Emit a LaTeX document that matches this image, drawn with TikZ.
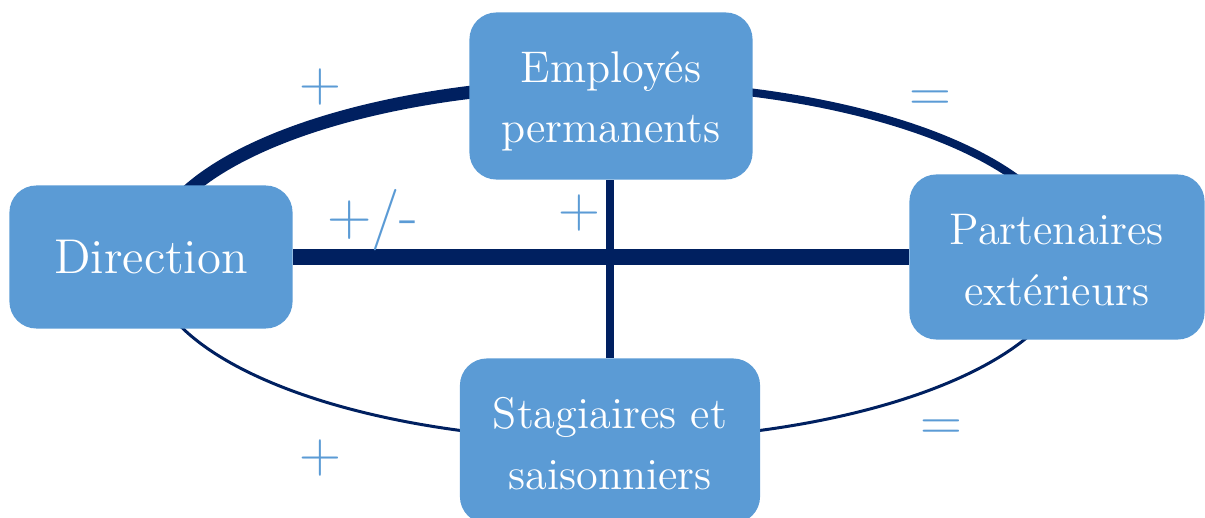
\documentclass[tikz,border=0pt]{standalone}
\usepackage{tikz}

\definecolor{bleu}{RGB}{91,155,213}
\definecolor{marine}{RGB}{0,32,96}

% cale verticale pour descendre un peu le texte dans les boites
\newcommand{\cale}{\rule[-0.06cm]{0pt}{0.48cm}}

\begin{document}
\begin{tikzpicture}[x=0.01cm,y=-0.01cm,
   boite/.style={rectangle,rounded corners=0.27cm,fill=bleu,text=white,align=center,
                 inner sep=0pt,font=\fontsize{12.6}{17.2}\selectfont},
   signe/.style={text=bleu,inner sep=0pt,font=\fontsize{16.5}{18}\selectfont}]

   \useasboundingbox (0,0) rectangle (1205,518);

   % l'ellipse en trois morceaux
   \coordinate (c) at (610,262);
   \draw[marine,line width=3.7pt] (c) ++(180:4.6cm and 1.78cm)
      arc[start angle=180,end angle=90,x radius=4.6cm,y radius=1.78cm];
   \draw[marine,line width=2.3pt] (c) ++(90:4.6cm and 1.78cm)
      arc[start angle=90,end angle=0,x radius=4.6cm,y radius=1.78cm];
   \draw[marine,line width=0.85pt] (c) ++(180:4.6cm and 1.78cm)
      arc[start angle=180,end angle=360,x radius=4.6cm,y radius=1.78cm];

   \node[boite,minimum width=2.83cm,minimum height=1.67cm] (emp) at (611,96) {\cale Employés\\\cale permanents};
   \node[boite,minimum width=2.83cm,minimum height=1.43cm,font=\fontsize{13.9}{16}\selectfont] (dir) at (151,257) {Direction};
   \node[boite,minimum width=2.95cm,minimum height=1.65cm] (part) at (1057,257) {\cale Partenaires\\\cale extérieurs};
   \node[boite,minimum width=3cm,minimum height=1.65cm] (stag) at (610,441) {\cale Stagiaires et\\\cale saisonniers};

   \draw[marine,line width=4.5pt] (dir) -- (part);
   \draw[marine,line width=2.3pt] (emp.south -| stag) -- (stag);

   \node[signe] (s1) at (320,87) {+};
   \node[signe] (s2) at (930,101) {=};
   \node[signe,font=\fontsize{17.5}{18}\selectfont] (s3) at (373,220) {+/-};
   \node[signe] (s4) at (579,213) {+};
   \node[signe] (s5) at (320,458) {+};
   \node[signe] (s6) at (941,430) {=};

\end{tikzpicture}
\end{document}
